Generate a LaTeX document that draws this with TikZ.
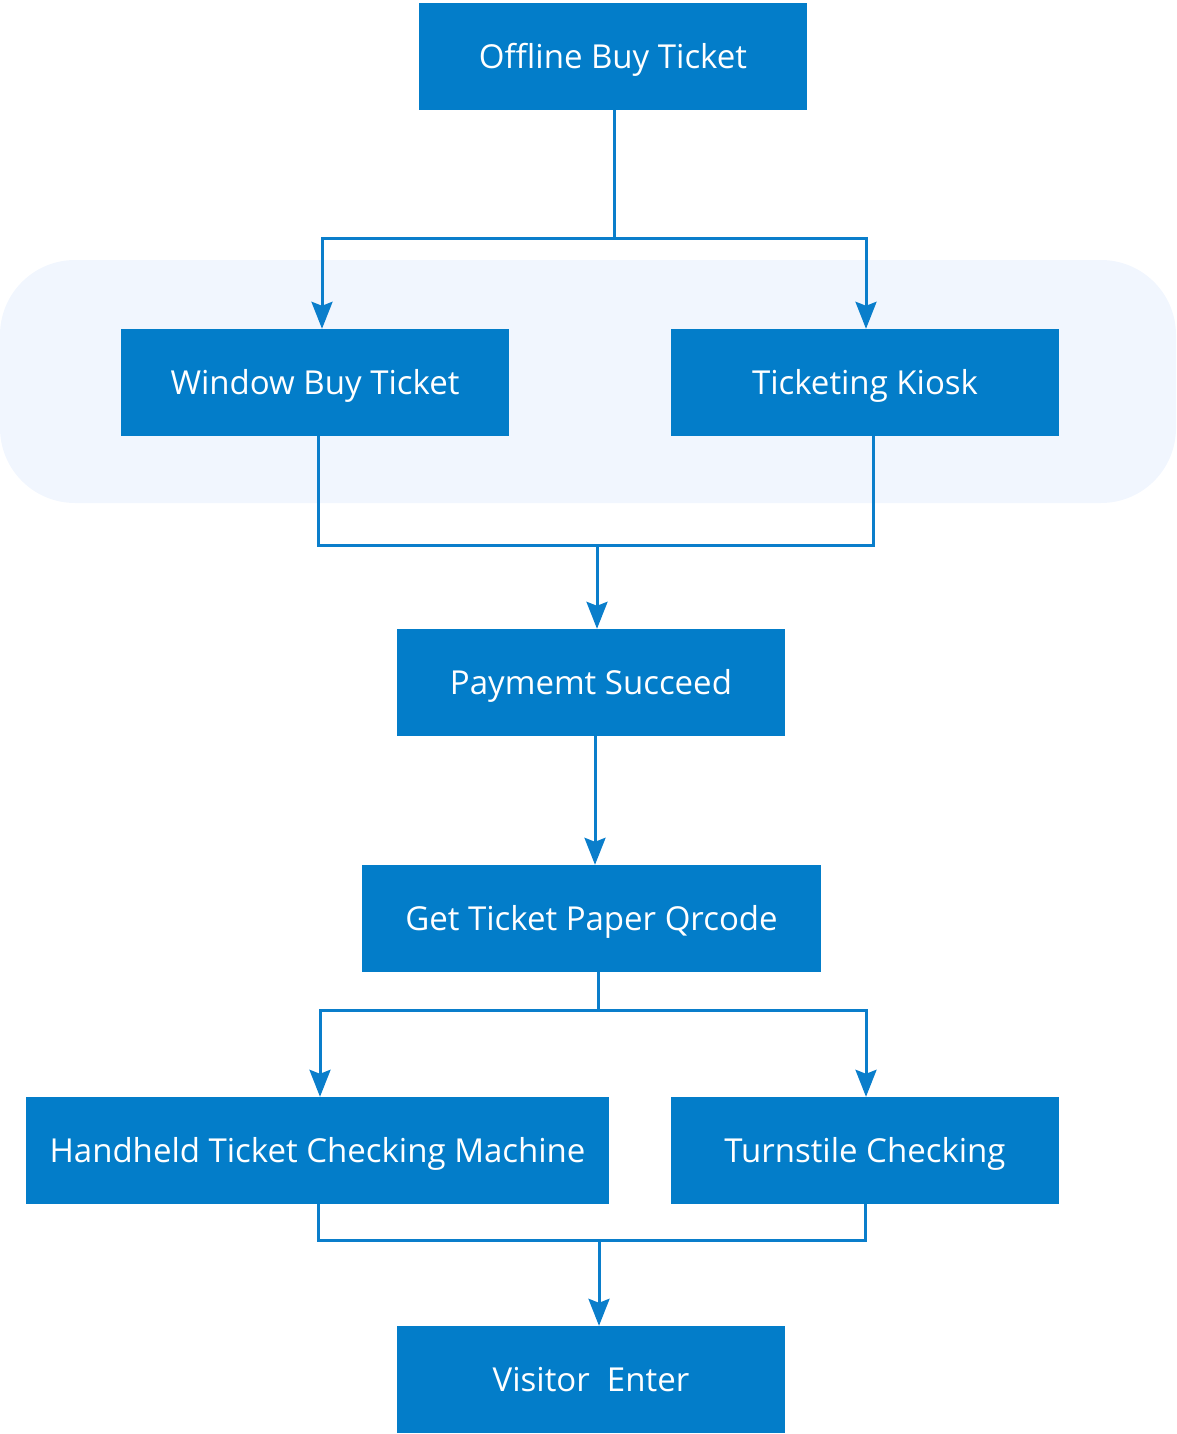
\documentclass[tikz,border=0pt]{standalone}
\usepackage{fontspec}
\setmainfont{Open Sans}
\usetikzlibrary{arrows.meta}
\definecolor{boxblue}{HTML}{037DC9}
\definecolor{lineblue}{HTML}{0A7ECB}
\definecolor{bgblue}{HTML}{F1F6FE}
\begin{document}
\begin{tikzpicture}[x=1pt,y=-1pt,
  stepbox/.style={draw=none,fill=boxblue,text=white,inner sep=0pt,text height=30pt,text depth=6pt,font=\fontsize{33}{40}\selectfont},
  conn/.style={draw=lineblue,line width=3pt},
  arr/.style={conn,-{Stealth[length=27pt,width=21pt,inset=4pt]}}]
\useasboundingbox (0,0) rectangle (1176,1434);
\fill[bgblue,rounded corners=75pt] (0,260) rectangle (1176,503);
% boxes
\node[stepbox,minimum width=388pt,minimum height=107pt] (offline) at (613,56.5) {Offline Buy Ticket};
\node[stepbox,minimum width=388pt,minimum height=107pt] (window) at (315,382.5) {Window Buy Ticket};
\node[stepbox,minimum width=388pt,minimum height=107pt] (kiosk) at (865,382.5) {Ticketing Kiosk};
\node[stepbox,minimum width=388pt,minimum height=107pt] (pay) at (591,682.5) {Paymemt Succeed};
\node[stepbox,minimum width=459pt,minimum height=107pt] (get) at (591.5,918.5) {Get Ticket Paper Qrcode};
\node[stepbox,minimum width=583pt,minimum height=107pt] (hand) at (317.5,1150.5) {Handheld Ticket Checking Machine};
\node[stepbox,minimum width=388pt,minimum height=107pt] (turn) at (865,1150.5) {Turnstile Checking};
\node[stepbox,minimum width=388pt,minimum height=107pt] (visit) at (591,1379.5) {Visitor\ \ Enter};
% junctions
\coordinate (j1) at (614,238);
\coordinate (j2) at (597,545);
\coordinate (j3) at (598,1010);
\coordinate (j4) at (599,1240);
% connectors
\draw[conn] (offline.south -| j1) -- (j1);
\draw[arr] (j1) -- (322,238) -- (window.north -| 322,0);
\draw[arr] (j1) -- (866,238) -- (kiosk.north -| 866,0);
\draw[conn] (window.south -| 318,0) -- (318,545) -- (873,545) -- (kiosk.south -| 873,0);
\draw[arr] (j2) -- (pay.north -| j2);
\draw[arr] (pay.south -| 595,0) -- (get.north -| 595,0);
\draw[conn] (get.south -| j3) -- (j3);
\draw[arr] (j3) -- (320,1010) -- (hand.north -| 320,0);
\draw[arr] (j3) -- (866,1010) -- (turn.north -| 866,0);
\draw[conn] (hand.south -| 318,0) -- (318,1240) -- (865,1240) -- (turn.south -| 865,0);
\draw[arr] (j4) -- (visit.north -| j4);
\end{tikzpicture}
\end{document}
